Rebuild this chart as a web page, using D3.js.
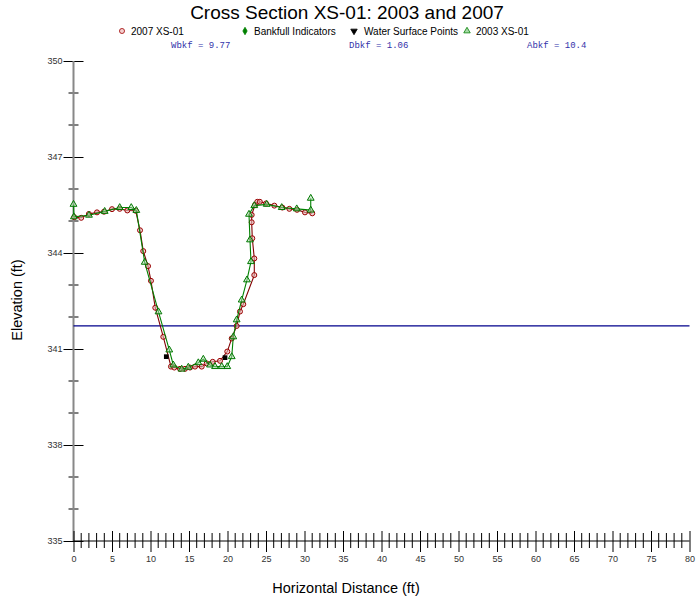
<!DOCTYPE html>
<html>
<head>
    <title>Cross Section XS-01</title>
    <script src="https://cdnjs.cloudflare.com/ajax/libs/d3/7.8.5/d3.min.js"></script>
    <style>
        body { margin: 0; background: white; }
        #drawingPlace text { font-family: Arial, "Liberation Sans", sans-serif; }
        #drawingPlace text.note { font-family: "Liberation Mono", "Courier New", monospace; }
    </style>
</head>
<body>
<svg id="drawingPlace" width="698" height="604"></svg>
<script>
    // 2007 survey (red circles)
    var station2007 = [0.1, 1.0, 2.0, 3.05, 3.96, 5.0, 6.0, 6.99, 8.08, 8.64, 9.06, 9.68, 10.06, 10.62, 11.66,
        12.66, 13.09, 13.83, 14.48, 15.13, 15.78, 16.65, 17.3, 18.08, 19.03, 19.97, 20.55, 21.19, 21.62, 22.05,
        23.48, 23.48, 23.22, 23.14, 23.14, 23.57, 23.87, 24.2, 25.0, 26.08, 27.12, 28.03, 29.03, 30.06, 31.01];
    var elev2007 = [345.12, 345.10, 345.22, 345.27, 345.29, 345.37, 345.38, 345.33, 345.32, 344.71, 344.06, 343.59, 343.13, 342.29, 341.38,
        340.45, 340.42, 340.38, 340.38, 340.42, 340.45, 340.45, 340.55, 340.60, 340.63, 340.92, 341.33, 341.72, 342.17, 342.40,
        343.31, 343.83, 344.46, 344.96, 345.19, 345.50, 345.60, 345.60, 345.55, 345.48, 345.42, 345.38, 345.35, 345.27, 345.24];

    // 2003 survey (green triangles)
    var station2003 = [0.0, 0.05, 2.01, 4.05, 6.0, 7.5, 8.16, 9.25, 11.04, 12.44, 12.96, 14.05, 14.91, 16.21, 16.86,
        17.73, 18.38, 19.25, 19.97, 20.55, 20.75, 21.19, 21.84, 22.53, 23.05, 22.92, 22.79, 23.48, 25.09, 27.04,
        28.99, 30.81, 30.81];
    var elev2003 = [345.52, 345.13, 345.18, 345.30, 345.42, 345.42, 345.33, 343.71, 342.16, 340.97, 340.50, 340.37, 340.43, 340.57, 340.68,
        340.50, 340.45, 340.45, 340.45, 340.76, 341.38, 341.91, 342.53, 343.16, 343.73, 344.41, 345.21, 345.48, 345.52, 345.42,
        345.38, 345.34, 345.71];

    // water surface points
    var stationWS = [12.05, 19.68];
    var elevWS = [340.76, 340.73];

    // bankfull elevation and summary numbers
    var bankfullElev = 341.72;
    var notes = ["Wbkf = 9.77", "Dbkf = 1.06", "Abkf = 10.4"];

    var legendNames = ["2007 XS-01", "Bankfull Indicators", "Water Surface Points", "2003 XS-01"];
    var xMajor = d3.range(0, 81, 5);
    var xMinor = d3.range(0, 81, 1);
    var yMajor = [335, 338, 341, 344, 347, 350];
    var yMinor = d3.range(335, 351, 1);

    var svg = d3.select("#drawingPlace");

    //scales
    var x = d3.scaleLinear().domain([0, 80]).range([73.5, 689.5]);
    var y = d3.scaleLinear().domain([335, 350]).range([541, 61]);

    //title
    svg.append("text")
        .attr("x", 347).attr("y", 19)
        .attr("text-anchor", "middle")
        .style("font-size", "19px")
        .text("Cross Section XS-01: 2003 and 2007");

    //legend
    var legendItems = [
        {name: legendNames[0], sx: 122, tx: 131, type: d3.symbolCircle, size: 20, fill: "#f4d0d0", stroke: "#a00000", rot: 0},
        {name: legendNames[1], sx: 245, tx: 254, type: d3.symbolDiamond, size: 16, fill: "#008000", stroke: "#008000", rot: 0},
        {name: legendNames[2], sx: 354, tx: 364, type: d3.symbolTriangle, size: 18, fill: "black", stroke: "black", rot: 180},
        {name: legendNames[3], sx: 467, tx: 476, type: d3.symbolTriangle, size: 18, fill: "#a8d8a8", stroke: "#008000", rot: 0}
    ];
    var lg = svg.append("g").selectAll("g").data(legendItems).enter().append("g");
    lg.append("path")
        .attr("d", d => d3.symbol().type(d.type).size(d.size)())
        .attr("transform", d => "translate(" + d.sx + ",31) rotate(" + d.rot + ")")
        .style("fill", d => d.fill)
        .style("stroke", d => d.stroke)
        .style("stroke-width", 0.8);
    lg.append("text")
        .attr("x", d => d.tx).attr("y", 35)
        .style("font-size", "10px")
        .text(d => d.name);

    //bankfull notes
    svg.selectAll("text.note")
        .data(notes)
        .enter()
        .append("text")
        .attr("class", "note")
        .attr("x", (d, i) => [171, 349, 527][i])
        .attr("y", 48)
        .style("font-size", "9px")
        .style("fill", "#3333aa")
        .text(d => d);

    //y axis
    var yAxisG = svg.append("g")
        .attr("transform", "translate(" + x(0) + ",0)")
        .call(d3.axisLeft(y).tickValues(yMajor).tickSize(10).tickPadding(1).tickFormat(d3.format("d")));
    yAxisG.select(".domain").remove();
    yAxisG.selectAll(".tick line").attr("x1", 10).attr("stroke", "black");
    yAxisG.selectAll(".tick text").style("font-size", "9px").style("fill", "#333");
    yAxisG.selectAll(".minor")
        .data(yMinor.filter(v => yMajor.indexOf(v) < 0))
        .enter()
        .append("line")
        .attr("class", "minor")
        .attr("x1", -5).attr("x2", 5)
        .attr("y1", d => y(d)).attr("y2", d => y(d))
        .attr("stroke", "black");
    yAxisG.append("line")
        .attr("y1", y(350)).attr("y2", y(335))
        .attr("stroke", "#888").attr("stroke-width", 2);

    //x axis
    var xAxisG = svg.append("g")
        .attr("transform", "translate(0," + y(335) + ")")
        .call(d3.axisBottom(x).tickValues(xMajor).tickSize(11).tickPadding(4));
    xAxisG.select(".domain").remove();
    xAxisG.selectAll(".tick line").attr("y1", -10).attr("stroke", "black");
    xAxisG.selectAll(".tick text").style("font-size", "9px").style("fill", "#333");
    xAxisG.selectAll(".minor")
        .data(xMinor.filter(v => xMajor.indexOf(v) < 0))
        .enter()
        .append("line")
        .attr("class", "minor")
        .attr("y1", -8).attr("y2", 7)
        .attr("x1", d => x(d)).attr("x2", d => x(d))
        .attr("stroke", "black");
    xAxisG.append("line")
        .attr("x1", x(0)).attr("x2", x(80))
        .attr("stroke", "black");

    //axis titles
    svg.append("text")
        .attr("x", 346).attr("y", 593)
        .attr("text-anchor", "middle")
        .style("font-size", "14.5px")
        .text("Horizontal Distance (ft)");
    svg.append("text")
        .attr("transform", "translate(22,300) rotate(-90)")
        .attr("text-anchor", "middle")
        .style("font-size", "14.5px")
        .text("Elevation (ft)");

    //bankfull line
    svg.append("line")
        .attr("x1", x(0)).attr("x2", x(80))
        .attr("y1", y(bankfullElev)).attr("y2", y(bankfullElev))
        .attr("stroke", "#00008b").attr("stroke-width", 1.2);

    var line = d3.line().x(d => x(d[0])).y(d => y(d[1]));
    var pts2007 = station2007.map((s, i) => [s, elev2007[i]]);
    var pts2003 = station2003.map((s, i) => [s, elev2003[i]]);
    var ptsWS = stationWS.map((s, i) => [s, elevWS[i]]);

    //2007 line and circles
    svg.append("path")
        .datum(pts2007)
        .attr("d", line)
        .attr("fill", "none")
        .attr("stroke", "#800000").attr("stroke-width", 1.1);
    svg.append("g").selectAll("circle")
        .data(pts2007)
        .enter()
        .append("circle")
        .attr("cx", d => x(d[0])).attr("cy", d => y(d[1]))
        .attr("r", 2.5)
        .style("fill", "#e8b8b8").style("fill-opacity", 0.6)
        .style("stroke", "#9a0000").style("stroke-width", 1);

    //2003 line and triangles
    svg.append("path")
        .datum(pts2003)
        .attr("d", line)
        .attr("fill", "none")
        .attr("stroke", "#008000").attr("stroke-width", 1.1);
    svg.append("g").selectAll("path")
        .data(pts2003)
        .enter()
        .append("path")
        .attr("d", d3.symbol().type(d3.symbolTriangle).size(20))
        .attr("transform", d => "translate(" + x(d[0]) + "," + y(d[1]) + ")")
        .style("fill", "#a8d8a8").style("fill-opacity", 0.5)
        .style("stroke", "#007800").style("stroke-width", 1);

    //water surface points
    svg.append("g").selectAll("path")
        .data(ptsWS)
        .enter()
        .append("path")
        .attr("d", d3.symbol().type(d3.symbolSquare).size(22))
        .attr("transform", d => "translate(" + x(d[0]) + "," + y(d[1]) + ")")
        .style("fill", "black");
</script>
</body>
</html>
